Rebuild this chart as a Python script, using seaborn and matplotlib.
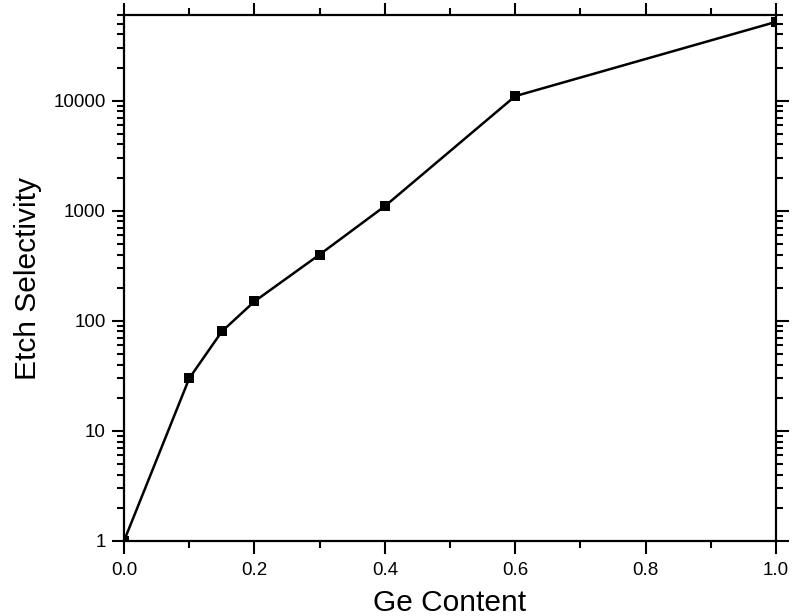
import numpy as np
import matplotlib.pyplot as plt
import matplotlib.ticker as mticker
import seaborn as sns
import pandas as pd

ge_content = [0.0, 0.1, 0.15, 0.2, 0.3, 0.4, 0.6, 1.0]
selectivity = [1, 30, 80, 150, 400, 1100, 11000, 52000]


def main():
    sns.set_style('ticks')
    plt.rcParams['font.family'] = ['Liberation Sans', 'DejaVu Sans']
    df = pd.DataFrame({'Ge': ge_content, 'Sel': selectivity})

    fig = plt.figure(figsize=(7.93, 6.16), dpi=100)
    ax = fig.add_axes([0.1564, 0.1218, 0.8222, 0.8538])
    sns.lineplot(data=df, x='Ge', y='Sel', ax=ax, color='black', lw=1.8,
                 marker='s', markersize=7.5, markeredgewidth=0)
    ax.set_yscale('log')
    ax.set_xlim(0, 1.0)
    ax.set_ylim(1, 60000)

    ax.xaxis.set_major_locator(mticker.MultipleLocator(0.2))
    ax.xaxis.set_minor_locator(mticker.MultipleLocator(0.1))
    ax.xaxis.set_major_formatter(mticker.FormatStrFormatter('%.1f'))
    ax.yaxis.set_major_locator(mticker.LogLocator(base=10, numticks=10))
    ax.yaxis.set_minor_locator(mticker.LogLocator(base=10, subs=np.arange(2, 10), numticks=20))
    ax.yaxis.set_major_formatter(mticker.FuncFormatter(lambda v, p: f'{v:.0f}'))
    ax.yaxis.set_minor_formatter(mticker.NullFormatter())

    ax.tick_params(which='both', direction='out', top=True, right=True,
                   width=1.5, labelsize=13.5, color='black', labelcolor='black')
    ax.tick_params(which='major', length=9)
    ax.tick_params(which='minor', length=5)
    ax.tick_params(axis='x', which='major', pad=6)
    ax.tick_params(axis='y', which='major', pad=4)
    for s in ax.spines.values():
        s.set_linewidth(1.6)
        s.set_color('black')

    ax.set_xlabel('Ge Content', fontsize=21.5, labelpad=7, color='black')
    ax.set_ylabel('Etch Selectivity', fontsize=21.5, labelpad=8, color='black')

    fig.savefig('out.png', dpi=100)


if __name__ == '__main__':
    main()
